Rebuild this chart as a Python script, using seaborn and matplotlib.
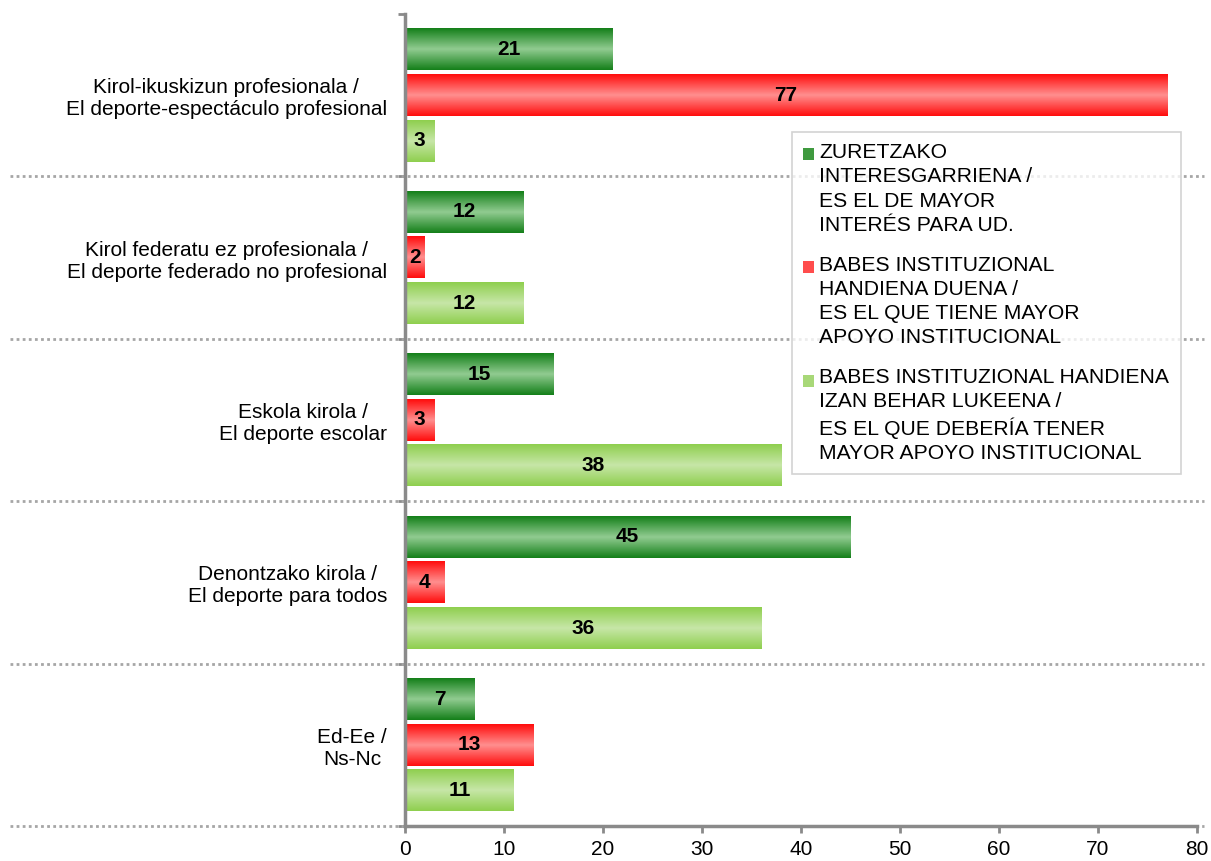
import numpy as np
import pandas as pd
import matplotlib
matplotlib.use("Agg")
import matplotlib.pyplot as plt
import matplotlib.transforms as mtransforms
from matplotlib.colors import LinearSegmentedColormap
from matplotlib.patches import Patch, Rectangle
from matplotlib.legend_handler import HandlerPatch
import seaborn as sns

# data
categories = [
    "Kirol-ikuskizun profesionala /\nEl deporte-espectáculo profesional",
    "Kirol federatu ez profesionala /\nEl deporte federado no profesional",
    "Eskola kirola /\nEl deporte escolar",
    "Denontzako kirola /\nEl deporte para todos",
    "Ed-Ee /\nNs-Nc",
]
series = [
    "ZURETZAKO\nINTERESGARRIENA /\nES EL DE MAYOR\nINTERÉS PARA UD.",
    "BABES INSTITUZIONAL\nHANDIENA DUENA /\nES EL QUE TIENE MAYOR\nAPOYO INSTITUCIONAL",
    "BABES INSTITUZIONAL HANDIENA\nIZAN BEHAR LUKEENA /\nES EL QUE DEBERÍA TENER\nMAYOR APOYO INSTITUCIONAL",
]
interes = [21, 12, 15, 45, 7]
apoyo_actual = [77, 2, 3, 4, 13]
apoyo_deseado = [3, 12, 38, 36, 11]
x_ticks = [0, 10, 20, 30, 40, 50, 60, 70, 80]

# edge / centre colours of the gradient bars
edge_cols = ["#15801a", "#ff0d0d", "#8fcf4f"]
mid_cols = ["#8fca8f", "#ff8d8d", "#c6e6a6"]

rows = []
for s, vals in zip(series, [interes, apoyo_actual, apoyo_deseado]):
    for c, v in zip(categories, vals):
        rows.append({"cat": c, "serie": s, "val": v})
df = pd.DataFrame(rows)

sns.set_style("white")
plt.rcParams["font.family"] = ["Liberation Sans", "DejaVu Sans"]

fig = plt.figure(figsize=(12.11, 8.61), dpi=100)
ax = fig.add_axes([0.3344, 0.0407, 0.654, 0.943])

sns.barplot(data=df, y="cat", x="val", hue="serie", orient="h",
            palette=edge_cols, width=0.843, gap=0.09, ax=ax,
            legend=False, linewidth=0, saturation=1)

# gradient fill over every bar
grad = np.array([0, 0.5, 1, 0.5, 0])
grad = np.interp(np.linspace(0, 4, 64), np.arange(5), grad).reshape(-1, 1)
for cont, e, m in zip(ax.containers, edge_cols, mid_cols):
    cmap = LinearSegmentedColormap.from_list("g", [e, m])
    for bar in cont:
        x0, y0 = bar.get_x(), bar.get_y()
        w, h = bar.get_width(), bar.get_height()
        ax.imshow(grad, cmap=cmap, aspect="auto", interpolation="bilinear",
                  extent=(x0, x0 + w, y0 + h, y0), zorder=2)
    ax.bar_label(cont, label_type="center", fontsize=15, fontweight="bold",
                 color="black", zorder=5)

ax.set_xlim(0, 80)
ax.set_ylim(4.5, -0.5)
ax.set_xticks(x_ticks)
ax.set_xlabel("")
ax.set_ylabel("")

ax.set_yticks(range(len(categories)))
ax.set_yticklabels(categories, multialignment="center", fontsize=15,
                   color="black")
ax.set_yticks(np.arange(-0.5, len(categories)), minor=True)
ax.tick_params(axis="y", which="major", length=0, pad=13)
ax.tick_params(axis="y", which="minor", length=5, width=2, color="#8a8a8a",
               direction="out", left=True)
ax.tick_params(axis="x", length=5, width=2, color="#8a8a8a", direction="out",
               bottom=True, labelsize=15, labelcolor="black", pad=5)

for side in ["top", "right"]:
    ax.spines[side].set_visible(False)
for side in ["left", "bottom"]:
    ax.spines[side].set_color("#8a8a8a")
    ax.spines[side].set_linewidth(2.5)
    ax.spines[side].set_zorder(6)

# dotted separators across the whole figure
trans = mtransforms.blended_transform_factory(fig.transFigure, ax.transData)
for yb in np.arange(0.5, len(categories)):
    ax.plot([0.008, 0.994], [yb, yb], transform=trans, clip_on=False,
            color="#a6a6a6", lw=2, ls=(0, (1, 1.2)), zorder=1)


class TopPatch(HandlerPatch):
    # put the square next to the first line of a 4-line label
    def create_artists(self, legend, orig_handle, xdescent, ydescent,
                       width, height, fontsize, trans):
        shift = 1.5 * fontsize * 1.1
        p = Rectangle((-xdescent, -ydescent + shift), width, height,
                      facecolor=orig_handle.get_facecolor(), edgecolor="none",
                      transform=trans)
        return [p]


handles = [Patch(facecolor=c) for c in ["#3f9a3f", "#ff4d4d", "#a8d878"]]
leg = ax.legend(handles, series, loc="upper left",
                bbox_to_anchor=(0.4748, 0.868), fontsize=15.2,
                frameon=True, fancybox=False, edgecolor="#c8c8c8",
                handlelength=0.5, handleheight=0.5, handletextpad=0.25,
                labelspacing=1.0, borderpad=0.55,
                handler_map={Patch: TopPatch()})
leg.get_frame().set_linewidth(1.2)
leg.set_zorder(10)
for t in leg.get_texts():
    t.set_linespacing(1.34)
    t.set_color("black")

fig.savefig("out.png", dpi=100)
